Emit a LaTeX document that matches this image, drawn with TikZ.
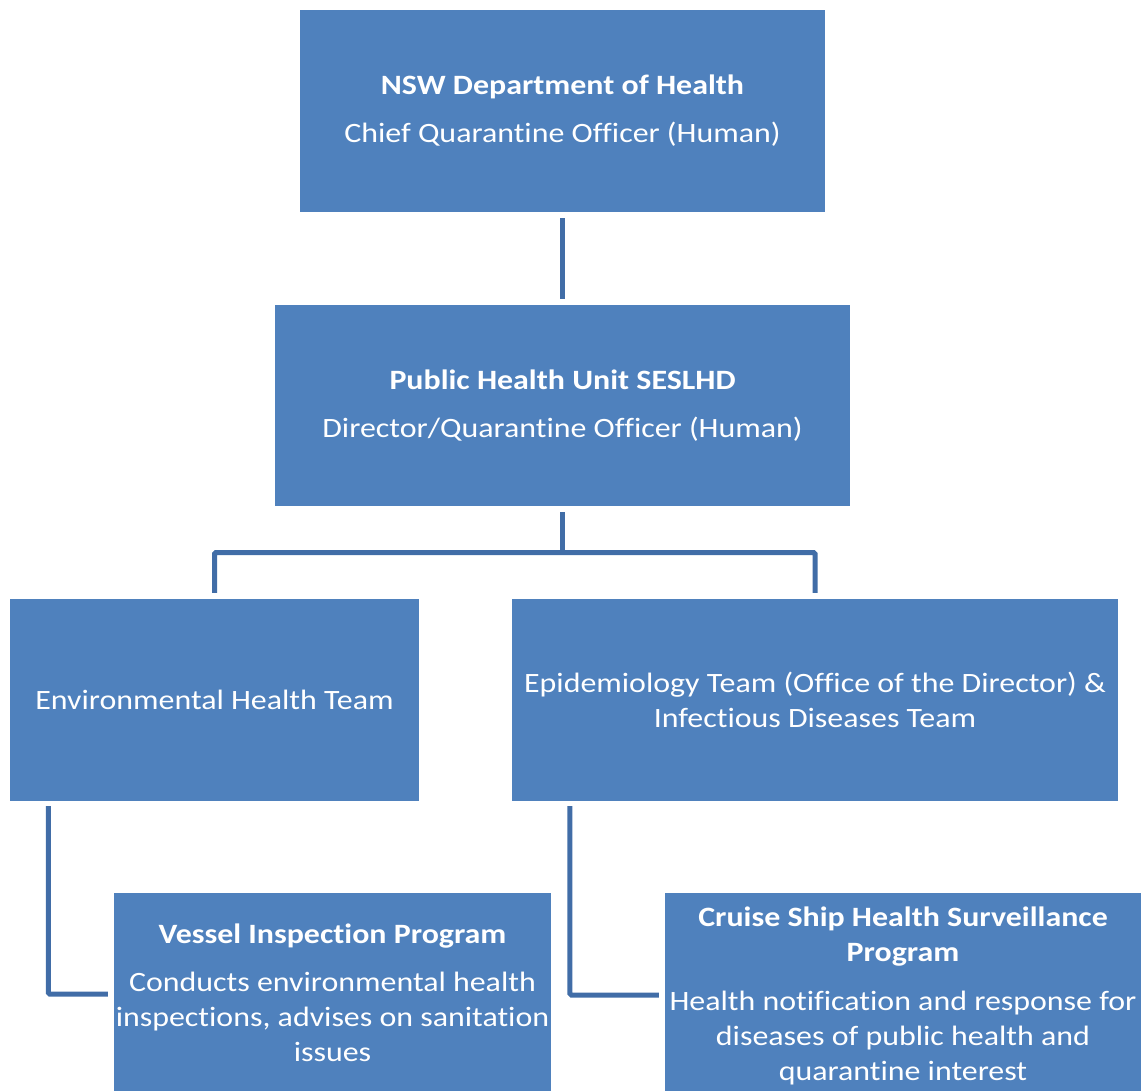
\documentclass[tikz,border=0pt]{standalone}
\usepackage{fontspec}
\setmainfont{Carlito}[FakeStretch=1.14, Ligatures=NoCommon]
\usetikzlibrary{positioning,calc}
\definecolor{oblue}{HTML}{4F81BD}
\definecolor{oblueL}{HTML}{416DA7}
\tikzset{
  every node/.style={font=\fontsize{28}{35}\selectfont, text=white},
  blk/.style ={fill=oblue, inner sep=0pt, align=center},
  conn/.style={draw=oblueL, line width=5pt, rounded corners=1.5pt},
}
\newcommand{\ttl}[1]{{\bfseries #1}}

\begin{document}
\begin{tikzpicture}[x=1pt, y=-1pt]
\useasboundingbox (0,0) rectangle (1145,1090);

% ---------------- department and unit ----------------------------------------
\node[blk, minimum width=525pt, minimum height=202pt] (nsw) at (562.5,111)
  {\ttl{NSW Department of Health}\\[13pt] Chief Quarantine Officer (Human)};
\node[blk, minimum width=575pt, minimum height=201pt] (phu) at (562.5,405.5)
  {\ttl{Public Health Unit SESLHD}\\[13pt] Director/Quarantine Officer (Human)};

% ---------------- teams -------------------------------------------------------
\node[blk, minimum width=409pt, minimum height=202pt] (envh) at (214.5,700)
  {Environmental Health Team};
\node[blk, minimum width=606pt, minimum height=202pt] (epid) at (815,700)
  {Epidemiology Team (Office of the Director) \&\\ Infectious Diseases Team};

% ---------------- programs (run past the bottom edge) -------------------------
\node[blk, minimum width=437pt, minimum height=200pt] (vessel) at (332.5,993)
  {\ttl{Vessel Inspection Program}\\[13pt] Conducts environmental health\\
   inspections, advises on sanitation\\ issues};
\node[blk, minimum width=476pt, minimum height=206pt] (cruise) at (903,996)
  {\ttl{Cruise Ship Health Surveillance}\\ \ttl{Program}\\[14pt]
   Health notification and response for\\ diseases of public health and\\
   quarantine interest};

% ---------------- connectors --------------------------------------------------
\coordinate (bus) at (562.5,552.5);
\draw[conn, shorten <=6pt, shorten >=6pt] (nsw) -- (phu);
\draw[conn, shorten <=6pt] (phu.south) -- (bus);
\draw[conn, shorten <=6pt, shorten >=6pt] (envh.north) |- (bus) -| (epid.north);
\draw[conn, shorten <=5pt, shorten >=6pt]
  ([xshift=38.5pt]envh.south west) |- ([yshift=-1pt]vessel.west);
\draw[conn, shorten <=5pt, shorten >=6pt]
  ([xshift=58pt]epid.south west) |- ([yshift=1pt]cruise.west);

\end{tikzpicture}
\end{document}
